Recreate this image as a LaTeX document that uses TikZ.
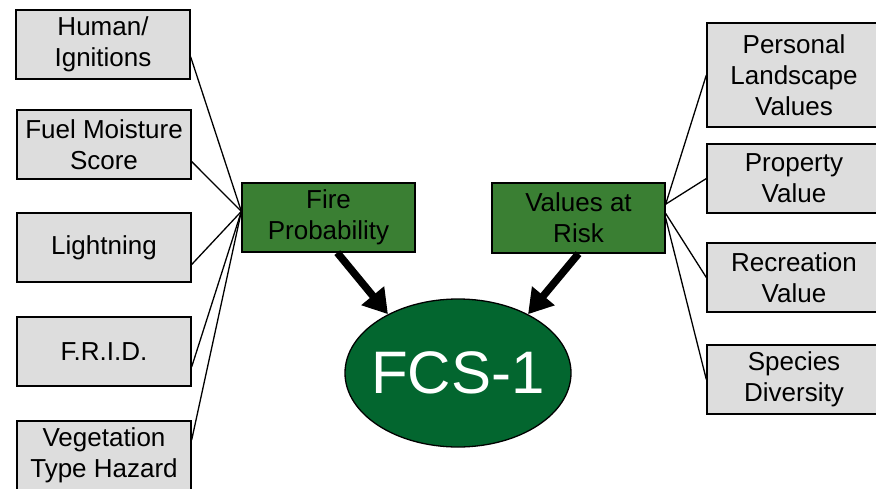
\documentclass[tikz,border=0pt]{standalone}
\usepackage{fontspec}
\setmainfont{Liberation Sans}
\usetikzlibrary{shapes.geometric,arrows.meta}

\definecolor{boxgrey}{HTML}{DDDDDD}
\definecolor{leafgreen}{HTML}{3A7F33}
\definecolor{darkgreen}{HTML}{03662F}

\begin{document}
\begin{tikzpicture}[x=1pt, y=-1pt,
    inbox/.style={draw, line width=1.3pt, fill=boxgrey, minimum width=174pt, minimum height=69pt,
      align=center, inner sep=1pt, font=\fontsize{26}{31}\selectfont},
    midbox/.style={inbox, fill=leafgreen, minimum width=173pt},
    link/.style={line width=1.3pt},
    bigarrow/.style={line width=7.5pt, -{Triangle[width=28pt,length=24pt]}}]
  \useasboundingbox (0,0) rectangle (876,488);
  % fire probability inputs
  \node[inbox] (hum) at (103,44.5) {Human/\\Ignitions};
  \node[inbox] (fuel) at (104,144.5) {Fuel Moisture\\Score};
  \node[inbox] (light) at (104,247.5) {Lightning};
  \node[inbox] (frid) at (104,351.5) {F.R.I.D.};
  \node[inbox] (veg) at (104,455.5) {Vegetation\\Type Hazard};
  % values at risk inputs
  \node[inbox, minimum height=104pt] (pers) at (794,75) {Personal\\Landscape\\Values};
  \node[inbox] (prop) at (794,178.5) {Property\\Value};
  \node[inbox] (recr) at (794,277.5) {Recreation\\Value};
  \node[inbox] (spec) at (794,379.5) {Species\\Diversity};
  % middle boxes and result
  \node[midbox] (fire) at (328.5,217.5) {Fire\\Probability};
  \node[midbox, minimum height=70pt] (var) at (578.5,218) {Values at\\Risk};
  \node[draw, line width=1.3pt, ellipse, fill=darkgreen, text=white, minimum width=226pt,
    minimum height=148pt, inner xsep=-8pt, inner ysep=0pt, font=\fontsize{60}{66}\selectfont] (fcs) at (458,373) {FCS-1};
  % thin links
  \draw[link] (hum.-8) -- (fire.176);
  \draw[link] (fuel.-11) -- (fire.176);
  \draw[link] (light.-11) -- (fire.176);
  \draw[link] (frid.-10) -- (fire.176);
  \draw[link] (veg.10) -- (fire.176);
  \draw[link] (pers.west) -- (var.9.8);
  \draw[link] (prop.west) -- (var.9.2);
  \draw[link] (recr.west) -- (var.3.3);
  \draw[link] (spec.west) -- (var.east);
  % thick arrows
  \draw[bigarrow] (fire.-76) -- (fcs.140);
  \draw[bigarrow] (var.south) -- (fcs.40);
\end{tikzpicture}
\end{document}
